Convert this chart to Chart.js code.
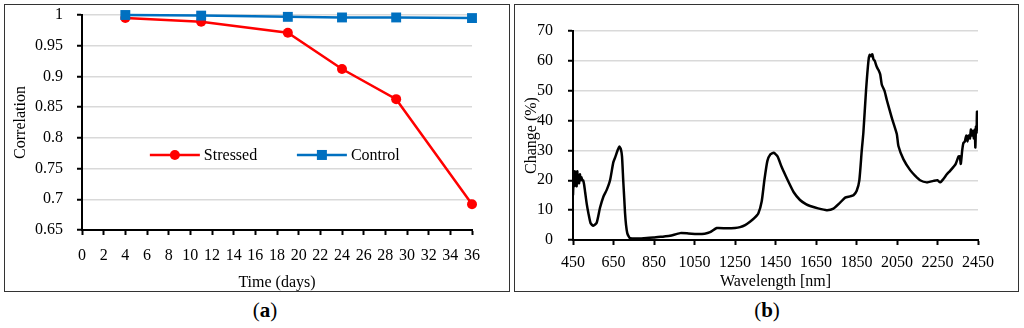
<!DOCTYPE html>
<html>
<head>
<meta charset="utf-8">
<script src="https://cdn.jsdelivr.net/npm/chart.js@4.4.1/dist/chart.umd.min.js"></script>
<style>
  body { margin: 0; width: 1024px; height: 328px; background: #fff; position: relative; overflow: hidden; font-family: "Liberation Serif", serif; }
  .box { position: absolute; top: 4px; height: 288px; box-sizing: border-box; border: 1.5px solid #333; }
  .wrap { position: absolute; top: 4px; height: 288px; }
  .cap { position: absolute; top: 298px; font-size: 21px; color: #000; transform: translateX(-50%); }
</style>
</head>
<body>
<div class="box" style="left:4px;width:506px"></div>
<div class="box" style="left:514px;width:505px"></div>
<div class="wrap" style="left:4px;width:506px"><canvas id="chartA"></canvas></div>
<div class="wrap" style="left:514px;width:505px"><canvas id="chartB"></canvas></div>
<div class="cap" style="left:265px">(<b>a</b>)</div>
<div class="cap" style="left:767px">(<b>b</b>)</div>
<script>
// (a) correlation over time
const days = [4, 11, 19, 24, 29, 36];
const stressed = [0.995, 0.989, 0.971, 0.912, 0.863, 0.692];
const control = [1.0, 0.999, 0.997, 0.996, 0.996, 0.995];

// (b) change spectrum
const wavelength = [450, 453, 456, 459, 462, 465, 468, 471, 474, 477, 480, 484, 488, 492, 496, 500, 505, 510, 518, 526,
  537, 550, 567, 583, 600, 616, 633, 649, 660, 670, 679, 686, 692, 698, 703, 707, 712, 718, 725, 732,
  760, 800, 847, 900, 929, 979, 1020, 1061, 1100, 1127, 1160, 1209, 1250, 1275, 1300, 1324, 1345, 1365, 1382, 1395,
  1410, 1425, 1441, 1460, 1480, 1500, 1514, 1540, 1571, 1600, 1621, 1660, 1703, 1736, 1769, 1794, 1818, 1835, 1851, 1864,
  1876, 1884, 1897, 1909, 1915, 1922, 1928, 1934, 1940, 1950, 1958, 1967, 1975, 1988, 2000, 2024, 2049, 2057, 2082, 2115,
  2140, 2164, 2197, 2230, 2250, 2263, 2280, 2296, 2310, 2329, 2340, 2354, 2360, 2365, 2372, 2378, 2385, 2392, 2398, 2403,
  2410, 2415, 2420, 2425, 2430, 2434, 2437, 2440, 2443, 2445, 2448, 2450];
const change = [15, 21, 18, 23, 19, 22, 18, 23, 20, 21, 19, 22, 20, 21, 20, 20, 18.5, 16, 12, 9,
  5.6, 4.8, 5.8, 10.7, 14.5, 16.7, 20, 26, 28, 30, 31.3, 30.5, 28, 20, 14, 9, 5, 2.3, 1.2, 0.6,
  0.5, 0.6, 0.8, 1.2, 1.4, 2.3, 2.2, 2.0, 2.1, 2.6, 4.0, 3.9, 4.0, 4.3, 5.0, 6.1, 7.3, 8.9, 13, 20,
  26.5, 28.7, 29.2, 28, 24.5, 21.5, 19.5, 16, 13.4, 12, 11.4, 10.6, 10, 10.5, 12.5, 14.2, 14.6, 15, 16.5, 20,
  30, 36, 50, 60, 62, 61.5, 62.2, 60.5, 60, 58, 57, 55.5, 52, 50, 46.8, 41, 35.5, 31.5, 27, 23.4,
  21.5, 20, 19.3, 19.8, 20, 19.3, 20.5, 22, 23, 24.5, 25.5, 28, 28, 25.5, 30, 32.5, 33, 35, 33, 35,
  34, 37, 35, 36.5, 34, 37, 31, 38, 36, 43, 37, 39];

const font = { family: 'Liberation Serif', size: 16 };
const gridGray = '#d9d9d9';
Chart.defaults.color = '#000';
Chart.defaults.font = font;

// legend drawn inside the plot area, like the original
const insideLegend = {
  id: 'insideLegend',
  afterDatasetsDraw(chart, args, opts) {
    if (!opts.items) return;
    const { ctx, chartArea: a } = chart;
    const y = a.top + a.height * opts.y;
    ctx.save();
    opts.items.forEach(it => {
      const ds = chart.data.datasets[it.ds];
      const x0 = a.left + a.width * it.x;
      ctx.strokeStyle = ds.borderColor;
      ctx.lineWidth = ds.borderWidth;
      ctx.beginPath();
      ctx.moveTo(x0, y);
      ctx.lineTo(x0 + 50, y);
      ctx.stroke();
      ctx.fillStyle = ds.borderColor;
      if (ds.pointStyle === 'rect') {
        ctx.fillRect(x0 + 20, y - 5, 10, 10);
      } else {
        ctx.beginPath();
        ctx.arc(x0 + 25, y, 5, 0, Math.PI * 2);
        ctx.fill();
      }
      ctx.fillStyle = '#000';
      ctx.font = '16px "Liberation Serif"';
      ctx.textBaseline = 'middle';
      ctx.fillText(ds.label, x0 + 54, y + 1);
    });
    ctx.restore();
  }
};

const axisBorder = { color: '#000', width: 2 };
const noEdgePad = s => { s.paddingTop = 0; s.paddingBottom = 0; };

new Chart(document.getElementById('chartA'), {
  type: 'line',
  data: {
    datasets: [
      {
        label: 'Control',
        data: days.map((d, i) => ({ x: d, y: control[i] })),
        borderColor: '#0070c0', backgroundColor: '#0070c0',
        borderWidth: 2.5, pointStyle: 'rect', pointRadius: 7, pointBorderWidth: 0, clip: false
      },
      {
        label: 'Stressed',
        data: days.map((d, i) => ({ x: d, y: stressed[i] })),
        borderColor: '#ff0000', backgroundColor: '#ff0000',
        borderWidth: 2.5, pointStyle: 'circle', pointRadius: 5, pointBorderWidth: 0, clip: false
      }
    ]
  },
  plugins: [insideLegend],
  options: {
    responsive: true,
    maintainAspectRatio: false,
    animation: false,
    layout: { padding: { left: 0, top: 11, right: 38, bottom: 0 } },
    plugins: {
      legend: { display: false },
      tooltip: { enabled: false },
      insideLegend: { y: 0.651, items: [{ ds: 1, x: 0.174 }, { ds: 0, x: 0.551 }] }
    },
    scales: {
      x: {
        type: 'linear', min: 0, max: 36,
        ticks: { stepSize: 2, padding: 11, maxRotation: 0, autoSkip: false },
        grid: { drawOnChartArea: false, drawTicks: true, tickLength: 5, tickColor: '#000', tickWidth: 2 },
        border: axisBorder,
        title: { display: true, text: 'Time (days)', padding: { top: 0, bottom: 0 } },
        afterFit(s) { s.height = 62; }
      },
      y: {
        min: 0.65, max: 1,
        ticks: { stepSize: 0.05, padding: 14, callback: v => String(+v.toFixed(2)) },
        grid: { color: gridGray, lineWidth: 1.5, tickLength: 5, tickColor: '#000', tickWidth: 2 },
        border: axisBorder,
        title: { display: true, text: 'Correlation', padding: { top: 7, bottom: 0 } },
        afterFit(s) { s.width = 78; noEdgePad(s); }
      }
    }
  }
});

new Chart(document.getElementById('chartB'), {
  type: 'line',
  data: {
    datasets: [{
      label: 'Change',
      data: wavelength.map((w, i) => ({ x: w, y: change[i] })),
      borderColor: '#000', borderWidth: 2.5, pointRadius: 0, tension: 0.2
    }]
  },
  options: {
    responsive: true,
    maintainAspectRatio: false,
    animation: false,
    layout: { padding: { left: 0, top: 27, right: 41, bottom: 0 } },
    plugins: { legend: { display: false }, tooltip: { enabled: false } },
    scales: {
      x: {
        type: 'linear', min: 450, max: 2450,
        ticks: { stepSize: 200, padding: 8, maxRotation: 0, autoSkip: false, callback: v => String(v) },
        grid: { drawOnChartArea: false, drawTicks: true, tickLength: 5, tickColor: '#000', tickWidth: 2 },
        border: axisBorder,
        title: { display: true, text: 'Wavelength [nm]', padding: { top: 0, bottom: 1 } },
        afterFit(s) { s.height = 52; }
      },
      y: {
        min: 0, max: 70,
        ticks: { stepSize: 10, padding: 15 },
        grid: { color: gridGray, lineWidth: 1.5, tickLength: 5, tickColor: '#000', tickWidth: 2 },
        border: axisBorder,
        title: { display: true, text: 'Change (%)', padding: { top: 8.4, bottom: 0 } },
        afterFit(s) { s.width = 59; noEdgePad(s); }
      }
    }
  }
});
</script>
</body>
</html>
